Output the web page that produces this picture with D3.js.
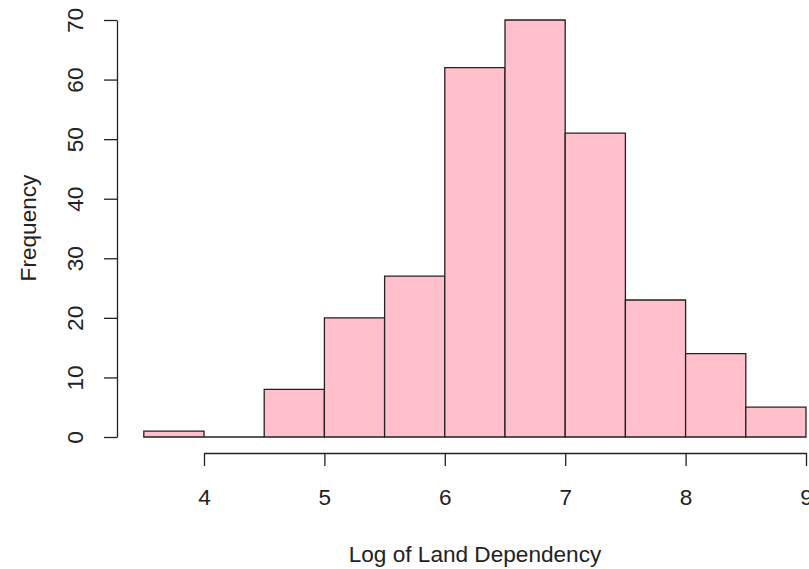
<!DOCTYPE html>
<html>
<head>
<meta charset="utf-8">
<script src="https://cdn.jsdelivr.net/npm/d3@7"></script>
<style>
  html, body { margin: 0; padding: 0; background: #fff; }
  svg { display: block; font-family: "Liberation Sans", Arial, sans-serif; }
</style>
</head>
<body>
<svg id="chart" width="809" height="569"></svg>
<script>
// Histogram bin edges (log of land dependency) and counts per bin
const binStarts = [3.5, 4.0, 4.5, 5.0, 5.5, 6.0, 6.5, 7.0, 7.5, 8.0, 8.5];
const binWidth = 0.5;
const counts = [1, 0, 8, 20, 27, 62, 70, 51, 23, 14, 5];
const xTicks = [4, 5, 6, 7, 8, 9];
const yTicks = [0, 10, 20, 30, 40, 50, 60, 70];

const FONT = 22.6;
const INK = "#222";

const svg = d3.select("#chart");

const x = d3.scaleLinear().domain([4, 9]).range([204, 806]);
const y = d3.scaleLinear().domain([0, 70]).range([437, 20]);

// bars drawn as closed paths so an empty bin still shows its base line
svg.append("g")
  .selectAll("path")
  .data(binStarts.map((s, i) => ({ s, c: counts[i] })))
  .join("path")
  .attr("d", d => {
    const x0 = x(d.s), x1 = x(d.s + binWidth), y0 = y(0), y1 = y(d.c);
    return `M${x0},${y0}V${y1}H${x1}V${y0}Z`;
  })
  .attr("fill", "#FFC0CB")
  .attr("stroke", INK)
  .attr("stroke-width", 1.3);

// x axis
const xAxis = svg.append("g")
  .attr("transform", "translate(0,453)")
  .call(d3.axisBottom(x).tickValues(xTicks).tickFormat(d3.format("d")).tickSize(13).tickSizeOuter(0));
xAxis.select(".domain").attr("stroke", INK).attr("stroke-width", 1.3);
xAxis.selectAll(".tick line").attr("stroke", INK).attr("stroke-width", 1.3);
xAxis.selectAll(".tick text")
  .attr("font-size", FONT).attr("fill", INK)
  .attr("font-family", "Liberation Sans, Arial, sans-serif")
  .attr("y", 52).attr("dy", null);

// y axis with labels turned parallel to the axis
const yAxis = svg.append("g")
  .attr("transform", "translate(117,0)")
  .call(d3.axisLeft(y).tickValues(yTicks).tickFormat(d3.format("d")).tickSize(13).tickSizeOuter(0));
yAxis.select(".domain").attr("stroke", INK).attr("stroke-width", 1.3);
yAxis.selectAll(".tick line").attr("stroke", INK).attr("stroke-width", 1.3);
yAxis.selectAll(".tick text")
  .attr("font-size", FONT).attr("fill", INK)
  .attr("font-family", "Liberation Sans, Arial, sans-serif")
  .attr("x", null)
  .attr("text-anchor", "middle")
  .attr("transform", "translate(-42,0) rotate(-90)")
  .attr("dy", "0.36em");

// axis titles
svg.append("text")
  .attr("x", 475).attr("y", 562)
  .attr("text-anchor", "middle")
  .attr("font-size", FONT).attr("fill", INK)
  .text("Log of Land Dependency");

svg.append("text")
  .attr("transform", "translate(36,228) rotate(-90)")
  .attr("text-anchor", "middle")
  .attr("font-size", FONT).attr("fill", INK)
  .text("Frequency");
</script>
</body>
</html>
